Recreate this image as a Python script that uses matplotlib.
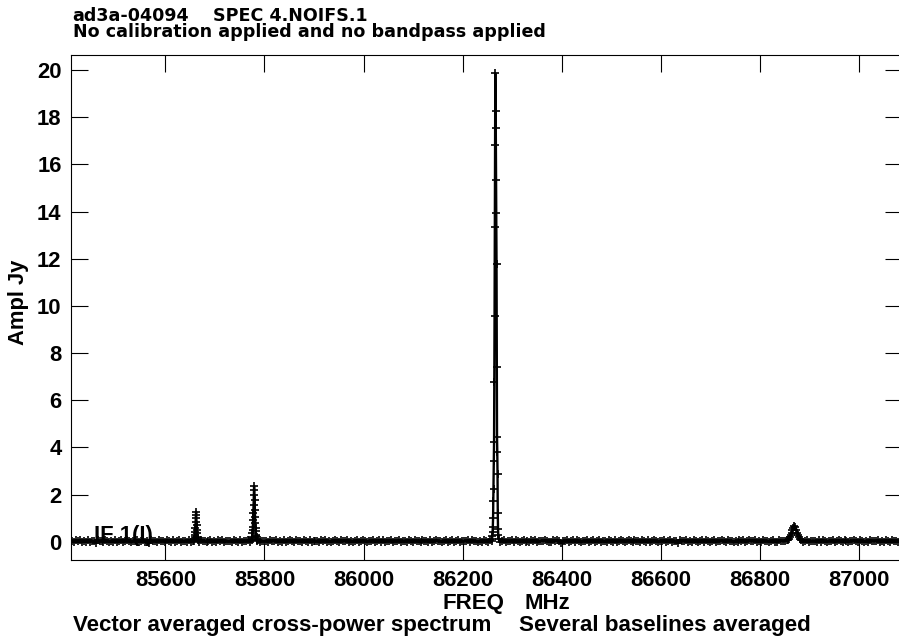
import matplotlib
matplotlib.use('Agg')
import matplotlib.pyplot as plt
import numpy as np

# spectrum baseline (Jy), evenly spaced channels 85412..87086 MHz
base_amp = [
    0.03, -0.02, 0.06, 0.01, 0.08, -0.03, 0.04, 0.00, 0.07, -0.01, 0.05, 0.02, -0.04, 0.06, 0.01,
    0.04, -0.02, 0.08, 0.03, -0.01, 0.05, 0.00, 0.07, -0.03, 0.02, 0.06, -0.02, 0.04, 0.09, 0.01,
    -0.03, 0.05, 0.02, 0.07, -0.01, 0.03, 0.08, 0.00, 0.05, -0.04, 0.06, 0.02, 0.04, -0.02, 0.07,
    0.01, 0.05, -0.03, 0.08, 0.02, 0.00, 0.06, -0.01, 0.04, 0.07, -0.02, 0.03, 0.05, 0.00, 0.08,
    -0.02, 0.04, 0.06, 0.01, -0.03, 0.07, 0.02, 0.05, -0.01, 0.03, 0.09, 0.00, 0.04, -0.02, 0.06,
    0.02, 0.07, -0.03, 0.05, 0.01, 0.04, -0.01, 0.08, 0.03, 0.00, 0.06, -0.02, 0.05, 0.02, 0.07,
    -0.01, 0.03, 0.06, 0.00, 0.08, -0.03, 0.04, 0.02, 0.05, -0.02, 0.07, 0.01, 0.04, 0.06, -0.01,
    0.05, 0.00, 0.07, -0.02, 0.03, 0.06, 0.01, -0.03, 0.08, 0.02, 0.04, -0.01, 0.06, 0.03, 0.00,
    0.07, -0.02, 0.04, 0.05, 0.01, -0.03, 0.06, 0.02, 0.08, 0.00, 0.03, -0.01, 0.05, 0.07, 0.02,
    -0.02, 0.06, 0.01, 0.04, 0.08, -0.03, 0.05, 0.00, 0.03, 0.07, -0.01, 0.02, 0.06, 0.04, -0.02,
    0.05, 0.01, 0.07, -0.01, 0.03, 0.06, 0.00, 0.08, -0.02, 0.04, 0.02, 0.06, -0.03, 0.05, 0.01,
    0.08, -0.01, 0.03, 0.05, 0.00, 0.07, 0.02, -0.02, 0.06, 0.04, 0.01, -0.03, 0.07, 0.03, 0.05,
    0.00, 0.06, -0.02, 0.04, 0.08, 0.01, 0.03, -0.01, 0.05, 0.07, -0.03, 0.02, 0.06, 0.00, 0.04,
    0.07, -0.02, 0.05, 0.01, 0.03, 0.06, -0.01, 0.08, 0.02, 0.04, -0.03, 0.05, 0.00, 0.06, 0.03,
    -0.01, 0.06, 0.02, -0.04, 0.07, 0.03, 0.00, 0.05, 0.09, -0.02, 0.04, 0.01, 0.06, -0.03, 0.08,
    0.02, -0.01, 0.05, 0.07, 0.00, 0.04, -0.02, 0.06, 0.03, 0.08, -0.03, 0.01, 0.05, 0.02, 0.07,
    0.04, 0.00, -0.02, 0.06, 0.03, 0.08, 0.01, -0.04, 0.05, 0.02, 0.07, -0.01, 0.04, 0.06, 0.00,
    0.08, 0.02, -0.03, 0.05, 0.01, 0.06, -0.02, 0.04, 0.07, 0.00, 0.03, 0.09, -0.01, 0.05, 0.02,
    -0.02, 0.07, 0.04, 0.00, 0.06, -0.03, 0.02, 0.08, 0.05, -0.01, 0.03, 0.06, 0.01, -0.02, 0.07,
    0.03, 0.05, -0.01, 0.08, 0.02, 0.00, 0.06, -0.03, 0.04, 0.07, 0.01, -0.02, 0.05, 0.03, 0.06,
    0.00, 0.04, 0.07, -0.02, 0.05, 0.02, -0.04, 0.08, 0.01, 0.03, 0.06, -0.01, 0.04, 0.00, 0.07,
    0.05, -0.03, 0.02, 0.06, 0.00, 0.08, 0.03, -0.01, 0.05, 0.07, -0.02, 0.04, 0.01, 0.06, 0.02,
    -0.01, 0.08, 0.03, 0.05, -0.03, 0.04, 0.00, 0.07, 0.02, 0.06, -0.02, 0.03, 0.08, 0.01, 0.05,
    0.06, 0.00, 0.04, -0.02, 0.07, 0.03, 0.05, -0.01, 0.02, 0.08, 0.00, -0.03, 0.06, 0.04, 0.01,
    0.02, 0.07, -0.01, 0.05, 0.03, -0.04, 0.06, 0.01, 0.08, 0.00, 0.04, 0.07, -0.02, 0.03, 0.05,
    0.04, -0.02, 0.06, 0.00, 0.08, 0.02, -0.01, 0.05, 0.03, 0.07, -0.03, 0.04, 0.06, 0.01, 0.00,
    0.07, 0.03, -0.02, 0.05, 0.01, 0.06, 0.04, -0.01, 0.08, 0.02, 0.00, 0.05, -0.03, 0.07, 0.03,
    0.01, 0.05, 0.08, -0.02, 0.04, 0.00, 0.06, 0.02, -0.01, 0.07, 0.03, 0.05, 0.00, 0.06, 0.02,
]
base_start, base_stop = 85411.0, 87087.0

# spectral lines: centre (MHz), channel width (MHz), amplitudes (Jy)
line1_center, line1_chan = 85662.0, 0.5
line1_amp = [0.05, 0.12, 0.20, 0.28, 0.42, 0.57, 0.85, 1.13, 1.27, 0.99, 0.71, 0.50,
             0.35, 0.22, 0.14, 0.06]

line2_center, line2_chan = 85780.0, 0.5
line2_amp = [0.06, 0.14, 0.22, 0.36, 0.50, 0.64, 0.92, 1.20, 1.56, 1.98, 2.36, 2.19,
             1.77, 1.34, 1.06, 0.78, 0.57, 0.44, 0.30, 0.25, 0.18, 0.12, 0.08, 0.04]

line3_center, line3_chan = 86266.0, 0.5
line3_amp = [0.10, 0.25, 0.42, 0.64, 0.99, 1.74, 2.22, 3.42, 4.24, 6.78, 9.58, 13.36,
             16.80, 19.86, 18.28, 17.53, 15.34, 13.92, 11.77, 7.42, 4.43, 3.82, 2.85,
             1.20, 0.55, 0.30, 0.12]

line4_center, line4_chan = 86870.0, 2.0
line4_amp = [0.08, 0.12, 0.18, 0.27, 0.38, 0.50, 0.60, 0.67, 0.61, 0.51, 0.39, 0.27,
             0.18, 0.11, 0.07]

x_ticks = [85600, 85800, 86000, 86200, 86400, 86600, 86800, 87000]
y_ticks = [0, 2, 4, 6, 8, 10, 12, 14, 16, 18, 20]

plt.rcParams['font.family'] = ['Liberation Sans', 'DejaVu Sans']
plt.rcParams['font.weight'] = 'bold'

# build one spectrum from baseline + lines
base_freq = np.linspace(base_start, base_stop, len(base_amp))
base_amp = np.array(base_amp)
freqs, amps = [], []
keep = np.ones(len(base_freq), dtype=bool)
for c, w, a in [(line1_center, line1_chan, line1_amp), (line2_center, line2_chan, line2_amp),
                (line3_center, line3_chan, line3_amp), (line4_center, line4_chan, line4_amp)]:
    f = c + w * (np.arange(len(a)) - len(a) // 2)
    keep &= (base_freq < f.min()) | (base_freq > f.max())
    freqs.append(f)
    amps.append(np.array(a))
freqs.append(base_freq[keep])
amps.append(base_amp[keep])
freq = np.concatenate(freqs)
amp = np.concatenate(amps)
order = np.argsort(freq)

fig = plt.figure(figsize=(8.99, 6.42), dpi=100)
ax = fig.add_axes([0.0793, 0.1277, 0.924, 0.7874])

ax.plot(freq[order], amp[order], color='black', lw=1.7, marker='+', ms=6, mew=1.2, zorder=3)

ax.set_xlim(85410, 87087)
ax.set_ylim(-0.776, 20.657)
ax.set_xticks(x_ticks)
ax.set_yticks(y_ticks)
ax.tick_params(direction='in', length=12.2, width=0.8, top=True, right=True,
               labelsize=15.8, pad=7)
for s in ax.spines.values():
    s.set_linewidth(0.8)

ax.text(0.0277, 0.0376, 'IF 1(I)', transform=ax.transAxes, fontsize=15.8,
        fontweight='bold', zorder=1)

# headers (wider glyphs, as in the original plot)
title_font = dict(family=['DejaVu Sans'], fontsize=12.6, fontweight='bold', va='baseline')
fig.text(0.0809, 0.9678, 'ad3a-04094', **title_font)
fig.text(212.7 / 899, 0.9678, 'SPEC 4.NOIFS.1', **title_font)
fig.text(0.0809, 0.9419, 'No calibration applied and no bandpass applied', **title_font)

fig.text(0.0204, 0.5288, 'Ampl Jy', rotation=90, fontsize=15.8, fontweight='bold',
         ha='center', va='center')
fig.text(442.7 / 899, 1 - 609.3 / 642, 'FREQ', fontsize=16, fontweight='bold', va='baseline')
fig.text(524.3 / 899, 1 - 609.3 / 642, 'MHz', fontsize=16, fontweight='bold', va='baseline')
fig.text(72.7 / 899, 1 - 631.5 / 642, 'Vector averaged cross-power spectrum', fontsize=16.1,
         fontweight='bold', va='baseline')
fig.text(519.3 / 899, 1 - 631.5 / 642, 'Several baselines averaged', fontsize=16.1,
         fontweight='bold', va='baseline')

fig.savefig('out.png', dpi=100)
